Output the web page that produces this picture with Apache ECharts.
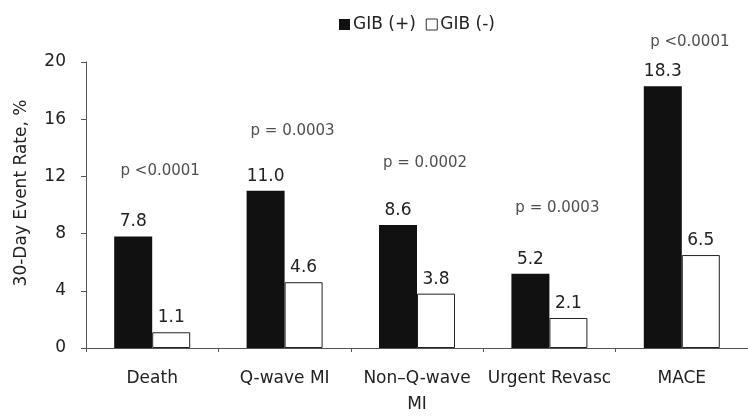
<!DOCTYPE html>
<html><head><meta charset="utf-8">
<script src="https://cdn.jsdelivr.net/npm/echarts@6/dist/echarts.min.js"></script>
<style>html,body{margin:0;padding:0;background:#fff}#c{width:748px;height:418px}</style>
</head><body><div id="c"></div>
<script>
var categories = ['Death', 'Q-wave MI', 'Non\u2013Q-wave\nMI', 'Urgent Revasc', 'MACE'];
var gibPos = [7.8, 11.0, 8.6, 5.2, 18.3];
var gibNeg = [1.1, 4.6, 3.8, 2.1, 6.5];
var pValues = ['p <0.0001', 'p = 0.0003', 'p = 0.0002', 'p = 0.0003', 'p <0.0001'];
var pLabelAt = [12.4, 15.2, 12.9, 9.8, 21.4];
var yTicks = [0, 4, 8, 12, 16, 20];

var font = 'DejaVu Sans, Liberation Sans, sans-serif';
var chart = echarts.init(document.getElementById('c'));
chart.setOption({
  animation: false,
  textStyle: {fontFamily: font, color: '#222'},
  legend: {
    top: 11, left: 334,
    itemWidth: 11, itemHeight: 11, itemGap: 10,
    textStyle: {fontSize: 17, color: '#222', fontFamily: font, padding: [0, 0, 0, -2]},
    data: [
      {name: 'GIB (+)', icon: 'rect', itemStyle: {color: '#111', borderWidth: 0}},
      {name: 'GIB (-)', icon: 'rect', itemStyle: {color: '#fff', borderColor: '#333', borderWidth: 1}}
    ]
  },
  grid: {left: 86, top: 62, width: 665, height: 286},
  xAxis: {
    type: 'category', data: categories,
    axisLine: {lineStyle: {color: '#555', width: 1}},
    axisTick: {show: true, length: 4, lineStyle: {color: '#555'}},
    axisLabel: {interval: 0, fontSize: 17, color: '#222', margin: 18, lineHeight: 26, fontFamily: font}
  },
  yAxis: {
    type: 'value', min: 0, max: 20, interval: 4,
    name: '30-Day Event Rate, %', nameLocation: 'middle', nameGap: 56,
    nameTextStyle: {fontSize: 17, color: '#222', fontFamily: font, padding: [0, 0, 0, 24]},
    axisLine: {show: true, lineStyle: {color: '#555', width: 1}},
    axisTick: {show: true, length: 5, lineStyle: {color: '#555'}},
    splitLine: {show: false},
    axisLabel: {fontSize: 17, color: '#222', margin: 20, fontFamily: font,
      formatter: function (v) { return yTicks.indexOf(v) >= 0 ? String(v) : ''; }}
  },
  series: [
    {
      name: 'GIB (+)', type: 'bar', data: gibPos, barWidth: 38, barGap: '0%',
      itemStyle: {color: '#111'},
      label: {show: true, position: 'top', distance: 6, fontSize: 17, color: '#222',
        formatter: function (p) { return p.value.toFixed(1); }}
    },
    {
      name: 'GIB (-)', type: 'bar', data: gibNeg, barWidth: 38,
      itemStyle: {color: '#fff', borderColor: '#222', borderWidth: 1},
      label: {show: true, position: 'top', distance: 6, fontSize: 17, color: '#222',
        formatter: function (p) { return p.value.toFixed(1); }}
    },
    {
      name: 'p', type: 'scatter', symbolSize: 0, clip: false, silent: true,
      data: pLabelAt.map(function (v, i) { return [i, v]; }),
      label: {show: true, position: 'inside', fontSize: 15, color: '#222', offset: [8, 0],
        formatter: function (p) { return pValues[p.dataIndex]; }}
    }
  ]
});
</script></body></html>
